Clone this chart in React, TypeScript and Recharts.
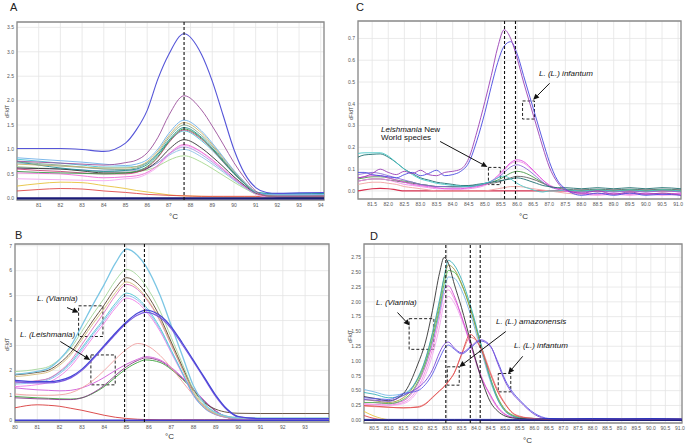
import React from 'react';
import { LineChart, Line, XAxis, YAxis, CartesianGrid, ReferenceLine, ReferenceArea } from 'recharts';

// ---------- Panel A ----------
const xA = [80, 81, 82, 83, 84, 85, 85.5, 86, 86.5, 87, 87.7, 88.5, 89, 89.5, 90, 90.5, 91, 91.5, 92, 93, 94.15];
const aBlue = [1.02, 1.02, 1.02, 1.0, 0.96, 1.13, 1.4, 1.8, 2.45, 2.95, 3.37, 2.95, 2.4, 1.7, 1.0, 0.5, 0.22, 0.12, 0.1, 0.11, 0.12];
const aPurple = [0.76, 0.74, 0.72, 0.7, 0.68, 0.73, 0.78, 0.93, 1.25, 1.7, 2.1, 1.81, 1.48, 1.11, 0.73, 0.41, 0.15, 0.05, 0.04, 0.04, 0.04];
const aLightBlue = [0.83, 0.8, 0.77, 0.74, 0.7, 0.67, 0.7, 0.79, 1.01, 1.33, 1.6, 1.38, 1.13, 0.85, 0.57, 0.33, 0.13, 0.08, 0.07, 0.07, 0.08];
const aTan = [0.7, 0.68, 0.66, 0.64, 0.62, 0.62, 0.65, 0.75, 0.97, 1.28, 1.55, 1.34, 1.1, 0.83, 0.56, 0.32, 0.13, 0.05, 0.04, 0.03, 0.03];
const aGrayGreen = [0.75, 0.71, 0.68, 0.64, 0.6, 0.59, 0.62, 0.72, 0.93, 1.24, 1.5, 1.29, 1.07, 0.8, 0.54, 0.31, 0.13, 0.06, 0.05, 0.05, 0.05];
const aTeal = [0.75, 0.68, 0.62, 0.58, 0.55, 0.57, 0.6, 0.69, 0.9, 1.19, 1.45, 1.25, 1.03, 0.78, 0.52, 0.3, 0.13, 0.1, 0.09, 0.09, 0.1];
const aGreen = [0.55, 0.53, 0.52, 0.51, 0.5, 0.52, 0.55, 0.65, 0.86, 1.16, 1.42, 1.23, 1.01, 0.76, 0.51, 0.3, 0.13, 0.05, 0.03, 0.02, 0.02];
const aMagRed = [0.6, 0.57, 0.55, 0.52, 0.5, 0.5, 0.53, 0.63, 0.84, 1.14, 1.4, 1.21, 1.0, 0.75, 0.51, 0.3, 0.12, 0.06, 0.05, 0.05, 0.05];
const aCyan = [0.8, 0.76, 0.72, 0.68, 0.64, 0.64, 0.65, 0.73, 0.91, 1.16, 1.38, 1.18, 0.98, 0.74, 0.5, 0.29, 0.12, 0.1, 0.1, 0.1, 0.1];
const aBlack = [0.62, 0.61, 0.6, 0.56, 0.52, 0.52, 0.54, 0.61, 0.77, 1.0, 1.2, 1.03, 0.85, 0.65, 0.44, 0.26, 0.11, 0.06, 0.03, 0.03, 0.03];
const aPink = [0.52, 0.51, 0.5, 0.46, 0.42, 0.44, 0.46, 0.53, 0.68, 0.91, 1.1, 0.95, 0.79, 0.6, 0.41, 0.24, 0.1, 0.04, 0.03, 0.03, 0.03];
const aLavender = [0.62, 0.61, 0.6, 0.58, 0.56, 0.56, 0.57, 0.61, 0.73, 0.91, 1.05, 0.9, 0.74, 0.57, 0.39, 0.23, 0.1, 0.07, 0.06, 0.06, 0.06];
const aLightBlue2 = [0.72, 0.69, 0.66, 0.63, 0.6, 0.59, 0.59, 0.62, 0.73, 0.88, 1.0, 0.85, 0.7, 0.54, 0.37, 0.22, 0.1, 0.08, 0.07, 0.07, 0.07];
const aLightGreen = [0.65, 0.62, 0.6, 0.57, 0.55, 0.56, 0.55, 0.58, 0.66, 0.78, 0.87, 0.74, 0.61, 0.47, 0.33, 0.2, 0.09, 0.05, 0.04, 0.04, 0.04];
const aLightPink = [0.4, 0.39, 0.38, 0.37, 0.36, 0.4, 0.42, 0.5, 0.65, 0.88, 1.08, 0.94, 0.77, 0.59, 0.4, 0.24, 0.08, 0.03, 0.02, 0.02, 0.02];
const aOrange = [0.25, 0.3, 0.33, 0.32, 0.26, 0.2, 0.16, 0.13, 0.1, 0.07, 0.05, 0.04, 0.035, 0.03, 0.03, 0.03, 0.03, 0.03, 0.03, 0.03, 0.03];
const aRed = [0.15, 0.18, 0.2, 0.19, 0.15, 0.12, 0.1, 0.08, 0.07, 0.06, 0.05, 0.04, 0.04, 0.04, 0.04, 0.04, 0.04, 0.03, 0.03, 0.03, 0.03];
const aNavy = [0, 0, 0, 0, 0, 0, 0, 0, 0, 0, 0, 0, 0, 0, 0, 0, 0, 0, 0, 0, 0];
const aXTicks = [81, 82, 83, 84, 85, 86, 87, 88, 89, 90, 91, 92, 93, 94];
const aYTicks = [0, 0.5, 1, 1.5, 2, 2.5, 3, 3.5];
const aMarks = [87.7];

// ---------- Panel B ----------
const xB = [80, 81, 81.5, 82, 82.5, 83, 83.5, 84, 84.5, 85, 85.5, 85.85, 86.5, 87, 87.5, 88, 88.5, 89, 89.5, 90, 91, 92, 93, 94.07];
const bCyan = [1.85, 1.96, 2.08, 2.44, 2.98, 3.8, 4.65, 5.45, 6.3, 6.87, 6.6, 6.2, 5.01, 3.8, 2.59, 1.37, 0.65, 0.31, 0.16, 0.1, 0.08, 0.08, 0.08, 0.08];
const bLightGreen = [1.95, 2.05, 2.15, 2.45, 2.89, 3.57, 4.26, 4.9, 5.6, 6.05, 5.8, 5.41, 4.38, 3.32, 2.27, 1.21, 0.58, 0.29, 0.16, 0.11, 0.08, 0.08, 0.08, 0.08];
const bBrown = [1.82, 1.92, 2.01, 2.29, 2.72, 3.35, 4.01, 4.63, 5.29, 5.72, 5.48, 5.12, 4.14, 3.14, 2.15, 1.22, 0.7, 0.44, 0.32, 0.28, 0.27, 0.27, 0.27, 0.27];
const bTan = [1.75, 1.85, 1.94, 2.21, 2.63, 3.24, 3.88, 4.48, 5.12, 5.55, 5.31, 4.95, 4.02, 3.05, 2.07, 1.11, 0.52, 0.25, 0.14, 0.09, 0.07, 0.07, 0.07, 0.07];
const bPink = [1.5, 1.59, 1.68, 1.96, 2.39, 3.04, 3.7, 4.33, 5.0, 5.45, 5.24, 4.9, 3.98, 3.01, 2.05, 1.09, 0.52, 0.24, 0.13, 0.08, 0.06, 0.06, 0.06, 0.06];
const bCyan2 = [1.5, 1.58, 1.67, 1.93, 2.32, 2.91, 3.51, 4.08, 4.69, 5.1, 4.89, 4.57, 3.71, 2.81, 1.91, 1.02, 0.49, 0.23, 0.12, 0.08, 0.06, 0.06, 0.06, 0.06];
const bLightBlue = [1.45, 1.53, 1.62, 1.87, 2.26, 2.83, 3.44, 4.0, 4.6, 5.0, 4.81, 4.49, 3.64, 2.76, 1.89, 1.0, 0.47, 0.23, 0.12, 0.08, 0.06, 0.06, 0.06, 0.06];
const bMagPink = [1.35, 1.43, 1.52, 1.77, 2.16, 2.73, 3.33, 3.9, 4.5, 4.9, 4.71, 4.4, 3.57, 2.71, 1.85, 0.98, 0.47, 0.22, 0.11, 0.07, 0.05, 0.05, 0.05, 0.05];
const bBlue = [1.6, 1.55, 1.55, 1.6, 1.75, 2.05, 2.5, 3.0, 3.5, 3.95, 4.3, 4.42, 4.2, 3.75, 3.1, 2.4, 1.7, 1.0, 0.45, 0.15, 0.07, 0.07, 0.07, 0.07];
const bViolet = [1.55, 1.5, 1.5, 1.55, 1.7, 2.0, 2.45, 2.95, 3.45, 3.9, 4.22, 4.33, 4.12, 3.68, 3.03, 2.35, 1.65, 0.95, 0.42, 0.14, 0.06, 0.06, 0.06, 0.06];
const bSalmon = [1.05, 1.0, 1.0, 1.02, 1.1, 1.3, 1.6, 2.0, 2.45, 2.85, 3.08, 3.02, 2.6, 2.1, 1.55, 1.0, 0.55, 0.25, 0.1, 0.05, 0.02, 0.02, 0.02, 0.02];
const bMagenta = [1.3, 1.22, 1.2, 1.18, 1.2, 1.3, 1.48, 1.72, 2.0, 2.25, 2.45, 2.55, 2.42, 2.12, 1.72, 1.25, 0.78, 0.38, 0.12, 0.03, 0, 0, 0, 0];
const bPurple = [0.9, 0.86, 0.85, 0.83, 0.83, 0.9, 1.1, 1.4, 1.8, 2.15, 2.4, 2.5, 2.38, 2.08, 1.68, 1.22, 0.76, 0.37, 0.12, 0.03, 0.02, 0.02, 0.02, 0.02];
const bGreen = [0.95, 0.9, 0.88, 0.86, 0.85, 0.9, 1.08, 1.35, 1.72, 2.07, 2.32, 2.42, 2.32, 2.04, 1.65, 1.2, 0.75, 0.36, 0.12, 0.03, 0.02, 0.02, 0.02, 0.02];
const bRed = [0.5, 0.62, 0.6, 0.56, 0.48, 0.4, 0.3, 0.2, 0.12, 0.07, 0.04, 0.03, 0.02, 0.02, 0.02, 0.02, 0.02, 0.02, 0.02, 0.02, 0.02, 0.02, 0.02, 0.02];
const bNavy = [0, 0, 0, 0, 0, 0, 0, 0, 0, 0, 0, 0, 0, 0, 0, 0, 0, 0, 0, 0, 0, 0, 0, 0];
const bXTicks = [80, 81, 82, 83, 84, 85, 86, 87, 88, 89, 90, 91, 92, 93];
const bYTicks = [0, 1, 2, 3, 4, 5, 6, 7];
const bMarks = [84.91, 85.8];

// ---------- Panel C ----------
const xC = [81.06, 81.25, 81.5, 81.75, 82, 82.25, 82.5, 82.75, 83, 83.25, 83.5, 83.75, 84, 84.25, 84.5, 84.75, 85, 85.2, 85.4, 85.6, 85.8, 86, 86.2, 86.4, 86.6, 86.8, 87, 87.25, 87.5, 88, 88.5, 89, 89.5, 90, 90.5, 91.09];
const cPurple = [0.06, 0.065, 0.08, 0.1, 0.085, 0.075, 0.09, 0.08, 0.095, 0.075, 0.07, 0.085, 0.09, 0.1, 0.15, 0.27, 0.41, 0.53, 0.66, 0.74, 0.7, 0.61, 0.5, 0.4, 0.3, 0.2, 0.11, 0.04, 0.005, -0.01, 0, -0.015, -0.005, -0.015, -0.01, -0.02];
const cBlue = [0.085, 0.085, 0.075, 0.07, 0.065, 0.06, 0.075, 0.085, 0.07, 0.08, 0.095, 0.07, 0.075, 0.09, 0.13, 0.23, 0.36, 0.48, 0.59, 0.665, 0.685, 0.63, 0.53, 0.43, 0.33, 0.23, 0.135, 0.05, 0.01, -0.02, -0.01, -0.02, -0.01, -0.02, -0.015, -0.02];
const cCyan = [0.172, 0.175, 0.175, 0.175, 0.16, 0.13, 0.1, 0.075, 0.055, 0.045, 0.035, 0.03, 0.025, 0.022, 0.02, 0.025, 0.035, 0.045, 0.06, 0.068, 0.055, 0.035, 0.02, 0.01, 0, -0.005, 0, 0, 0.005, 0, 0.005, 0, 0.005, 0, 0.005, 0];
const cDarkTeal = [0.155, 0.165, 0.168, 0.17, 0.155, 0.13, 0.1, 0.08, 0.06, 0.05, 0.04, 0.035, 0.03, 0.025, 0.025, 0.03, 0.035, 0.04, 0.045, 0.05, 0.055, 0.06, 0.055, 0.045, 0.035, 0.025, 0.02, 0.015, 0.015, 0.01, 0.015, 0.01, 0.015, 0.01, 0.015, 0.01];
const cMagenta = [0.06, 0.065, 0.07, 0.07, 0.06, 0.05, 0.04, 0.03, 0.025, 0.02, 0.015, 0.01, 0.01, 0.01, 0.015, 0.02, 0.03, 0.045, 0.07, 0.1, 0.13, 0.143, 0.135, 0.11, 0.08, 0.05, 0.025, 0.01, 0, -0.01, -0.015, -0.01, -0.015, -0.01, -0.015, -0.01];
const cPink = [0.045, 0.05, 0.055, 0.055, 0.05, 0.04, 0.03, 0.025, 0.02, 0.015, 0.01, 0.01, 0.008, 0.008, 0.01, 0.015, 0.025, 0.04, 0.065, 0.095, 0.125, 0.135, 0.128, 0.105, 0.078, 0.05, 0.028, 0.012, 0, -0.015, -0.02, -0.015, -0.02, -0.015, -0.02, -0.015];
const cViolet = [0.075, 0.08, 0.085, 0.08, 0.07, 0.06, 0.05, 0.04, 0.03, 0.025, 0.02, 0.02, 0.018, 0.018, 0.02, 0.025, 0.035, 0.045, 0.06, 0.085, 0.11, 0.12, 0.11, 0.09, 0.065, 0.04, 0.02, 0.008, 0, -0.005, 0, -0.005, 0, -0.005, 0, -0.005];
const cGreen = [0.055, 0.06, 0.065, 0.065, 0.06, 0.05, 0.045, 0.04, 0.03, 0.025, 0.02, 0.02, 0.02, 0.02, 0.02, 0.025, 0.03, 0.04, 0.05, 0.065, 0.082, 0.09, 0.085, 0.072, 0.055, 0.038, 0.022, 0.012, 0.005, 0, 0.005, 0, 0.005, 0, 0.005, 0];
const cGray = [0.045, 0.05, 0.055, 0.055, 0.05, 0.045, 0.04, 0.035, 0.03, 0.025, 0.02, 0.02, 0.02, 0.02, 0.022, 0.025, 0.03, 0.035, 0.04, 0.05, 0.06, 0.067, 0.065, 0.058, 0.048, 0.035, 0.022, 0.012, 0.008, 0.005, 0.008, 0.005, 0.008, 0.005, 0.008, 0.005];
const cSalmon = [0.03, 0.035, 0.04, 0.04, 0.035, 0.03, 0.02, 0.015, 0.01, 0.005, 0, 0, 0, 0, 0, 0, 0, 0.005, 0.01, 0.015, 0.02, 0.02, 0.018, 0.012, 0.008, 0.004, 0, -0.005, -0.01, -0.015, -0.01, -0.015, -0.01, -0.015, -0.01, -0.015];
const cRed = [0, 0.005, 0.01, 0.012, 0.01, 0.005, 0, 0, 0, 0, 0, 0, 0, 0, 0, 0, 0, 0, 0, 0, 0, 0, 0, 0, 0, 0, 0, 0, 0, 0, 0, 0, 0, 0, 0, 0];
const cXTicks = [81.5, 82, 82.5, 83, 83.5, 84, 84.5, 85, 85.5, 86, 86.5, 87, 87.5, 88, 88.5, 89, 89.5, 90, 90.5, 91];
const cYTicks = [0, 0.1, 0.2, 0.3, 0.4, 0.5, 0.6, 0.7];
const cMarks = [85.61, 85.95];

// ---------- Panel D ----------
const xD = [80.15, 80.5, 81, 81.5, 82, 82.25, 82.5, 82.75, 82.9, 83.05, 83.25, 83.5, 83.8, 84.15, 84.5, 84.75, 85, 85.25, 85.5, 86, 86.5, 87, 88, 89, 90, 91.07];
const dBlack = [0.4, 0.37, 0.33, 0.45, 0.95, 1.3, 1.85, 2.5, 2.75, 2.65, 2.3, 1.9, 1.35, 0.75, 0.3, 0.15, 0.07, 0.04, 0.03, 0.02, 0.02, 0.02, 0.02, 0.02, 0.02, 0.02];
const dTeal = [0.47, 0.44, 0.38, 0.42, 0.72, 1.02, 1.48, 2.05, 2.42, 2.7, 2.62, 2.38, 1.95, 1.32, 0.68, 0.34, 0.15, 0.07, 0.04, 0.03, 0.03, 0.03, 0.03, 0.03, 0.03, 0.03];
const dOlive = [0.35, 0.33, 0.3, 0.38, 0.7, 1.0, 1.45, 2.0, 2.4, 2.62, 2.55, 2.3, 1.88, 1.28, 0.68, 0.36, 0.17, 0.08, 0.04, 0.03, 0.03, 0.03, 0.03, 0.03, 0.03, 0.03];
const dGreen = [0.3, 0.3, 0.28, 0.35, 0.65, 0.95, 1.38, 1.92, 2.3, 2.53, 2.5, 2.3, 1.9, 1.3, 0.7, 0.38, 0.18, 0.09, 0.05, 0.03, 0.03, 0.03, 0.03, 0.03, 0.03, 0.03];
const dLightBlue = [0.52, 0.48, 0.42, 0.45, 0.7, 0.95, 1.35, 1.85, 2.2, 2.42, 2.4, 2.2, 1.8, 1.22, 0.64, 0.34, 0.16, 0.08, 0.04, 0.03, 0.03, 0.03, 0.03, 0.03, 0.03, 0.03];
const dMagenta = [0.3, 0.3, 0.28, 0.33, 0.62, 0.9, 1.3, 1.85, 2.2, 2.27, 2.1, 1.75, 1.3, 0.75, 0.42, 0.22, 0.1, 0.05, 0.03, 0.02, 0.02, 0.02, 0.02, 0.02, 0.02, 0.02];
const dPink = [0.28, 0.27, 0.26, 0.3, 0.55, 0.82, 1.2, 1.75, 2.12, 2.2, 2.05, 1.75, 1.3, 0.78, 0.4, 0.2, 0.09, 0.05, 0.03, 0.02, 0.02, 0.02, 0.02, 0.02, 0.02, 0.02];
const dLightPink = [0.27, 0.26, 0.25, 0.28, 0.5, 0.75, 1.1, 1.6, 1.98, 2.09, 1.98, 1.7, 1.28, 0.78, 0.4, 0.2, 0.1, 0.05, 0.03, 0.02, 0.02, 0.02, 0.02, 0.02, 0.02, 0.02];
const dPurpleInf = [0.35, 0.34, 0.32, 0.42, 0.55, 0.66, 0.85, 1.15, 1.28, 1.32, 1.22, 1.14, 1.24, 1.36, 1.25, 0.95, 0.65, 0.45, 0.32, 0.1, 0.02, 0.01, 0.01, 0.01, 0.01, 0.01];
const dBlueInf = [0.38, 0.37, 0.35, 0.45, 0.5, 0.6, 0.78, 1.05, 1.2, 1.27, 1.2, 1.12, 1.22, 1.34, 1.24, 0.98, 0.68, 0.48, 0.34, 0.12, 0.03, 0.02, 0.02, 0.02, 0.02, 0.02];
const dRedAmz = [0.25, 0.24, 0.22, 0.21, 0.22, 0.27, 0.38, 0.5, 0.57, 0.66, 0.8, 1.12, 1.45, 1.22, 0.77, 0.47, 0.27, 0.12, 0.06, 0.03, 0.02, 0.02, 0.02, 0.02, 0.02, 0.02];
const dSalmonAmz = [0.24, 0.23, 0.22, 0.21, 0.23, 0.28, 0.39, 0.5, 0.56, 0.65, 0.8, 1.1, 1.4, 1.25, 0.8, 0.5, 0.28, 0.13, 0.07, 0.03, 0.02, 0.02, 0.02, 0.02, 0.02, 0.02];
const dOrange = [0.15, 0.07, 0.01, 0, 0, 0, 0, 0, 0, 0, 0, 0, 0, 0, 0, 0, 0, 0, 0, 0, 0, 0, 0, 0, 0, 0];
const dRedLow = [0.08, 0.03, 0, 0, 0, 0, 0, 0, 0, 0, 0, 0, 0, 0, 0, 0, 0, 0, 0, 0, 0, 0, 0, 0, 0, 0];
const dBlueFlat = [0.015, 0.015, 0.015, 0.015, 0.015, 0.015, 0.015, 0.015, 0.015, 0.015, 0.015, 0.015, 0.015, 0.015, 0.015, 0.015, 0.015, 0.015, 0.015, 0.02, 0.03, 0.025, 0.03, 0.025, 0.03, 0.02];
const dNavy = [0, 0, 0, 0, 0, 0, 0, 0, 0, 0, 0, 0, 0, 0, 0, 0, 0, 0, 0, 0, 0, 0, 0, 0, 0, 0];
const dXTicks = [80.5, 81, 81.5, 82, 82.5, 83, 83.5, 84, 84.5, 85, 85.5, 86, 86.5, 87, 87.5, 88, 88.5, 89, 89.5, 90, 90.5, 91];
const dYTicks = [0, 0.25, 0.5, 0.75, 1, 1.25, 1.5, 1.75, 2, 2.25, 2.5, 2.75];
const dMarks = [82.96, 83.8, 84.14];

type S = { key: string; color: string; values: number[]; w?: number };
type Box = { x1: number; x2: number; y1: number; y2: number };
type Arrow = { from: [number, number]; to: [number, number] };

const arrowShape = (p: any) => {
  const { x1, y1, x2, y2 } = p;
  const ang = Math.atan2(y2 - y1, x2 - x1);
  const L = 6;
  const W = 2.8;
  const bx = x2 - L * Math.cos(ang);
  const by = y2 - L * Math.sin(ang);
  const pts = `${x2},${y2} ${bx - W * Math.sin(ang)},${by + W * Math.cos(ang)} ${bx + W * Math.sin(ang)},${by - W * Math.cos(ang)}`;
  return (
    <g>
      <line x1={x1} y1={y1} x2={bx} y2={by} stroke="#111" strokeWidth={1} />
      <polygon points={pts} fill="#111" />
    </g>
  );
};

const tickStyle = { fontSize: 5, fill: '#555', fontFamily: 'Liberation Sans, Arial, sans-serif' };

function Panel(props: {
  left: number; top: number; width: number; height: number;
  margin: { top: number; right: number; bottom: number; left: number };
  yWidth: number; xs: number[]; series: S[];
  xDomain: [number, number]; yDomain: [number, number];
  xTicks: number[]; yTicks: number[];
  xFmt: (v: number) => string; yFmt: (v: number) => string;
  marks: number[]; boxes: Box[]; arrows: Arrow[];
}) {
  const { xs, series } = props;
  const rows = xs.map((t, i) => {
    const r: any = { t };
    series.forEach((s) => { r[s.key] = s.values[i]; });
    return r;
  });
  return (
    <div style={{ position: 'absolute', left: props.left, top: props.top }}>
      <LineChart width={props.width} height={props.height} data={rows} margin={props.margin}>
        <CartesianGrid stroke="#e4e4e4" strokeWidth={0.8} />
        <XAxis dataKey="t" type="number" domain={props.xDomain} ticks={props.xTicks} tickFormatter={props.xFmt}
          allowDataOverflow interval={0} height={12} tickLine={false} tickSize={0} axisLine={false} tick={tickStyle} tickMargin={3} />
        <YAxis type="number" domain={props.yDomain} ticks={props.yTicks} tickFormatter={props.yFmt}
          allowDataOverflow interval={0} width={props.yWidth} tickLine={false} tickSize={0} axisLine={false} tick={tickStyle} tickMargin={3} />
        {series.map((s) => (
          <Line key={s.key} dataKey={s.key} stroke={s.color} strokeWidth={s.w ?? 0.9} dot={false}
            type="monotone" isAnimationActive={false} />
        ))}
        {props.marks.map((m) => (
          <ReferenceLine key={'m' + m} x={m} stroke="#111" strokeDasharray="3 2" strokeWidth={1.1} />
        ))}
        {props.boxes.map((b, i) => (
          <ReferenceArea key={'b' + i} x1={b.x1} x2={b.x2} y1={b.y1} y2={b.y2} fill="none" fillOpacity={0}
            stroke="#222" strokeDasharray="3 2" strokeWidth={1} />
        ))}
        {props.arrows.map((a, i) => (
          <ReferenceLine key={'a' + i} segment={[{ x: a.from[0], y: a.from[1] }, { x: a.to[0], y: a.to[1] }]}
            stroke="#111" shape={arrowShape} />
        ))}
        <ReferenceArea x1={props.xDomain[0]} x2={props.xDomain[1]} y1={props.yDomain[0]} y2={props.yDomain[1]}
          fill="none" fillOpacity={0} stroke="#8a8a8a" strokeWidth={1.3} ifOverflow="visible" />
      </LineChart>
    </div>
  );
}

const seriesA: S[] = [
  { key: 'orange', color: '#e6c23c', values: aOrange },
  { key: 'red', color: '#e04848', values: aRed },
  { key: 'lightpink', color: '#f4a6f0', values: aLightPink },
  { key: 'lightgreen', color: '#a6d88e', values: aLightGreen },
  { key: 'lightblue2', color: '#8fc3e6', values: aLightBlue2 },
  { key: 'lavender', color: '#a99be0', values: aLavender },
  { key: 'pink', color: '#f06ad8', values: aPink },
  { key: 'black', color: '#333333', values: aBlack },
  { key: 'cyan', color: '#48c4d6', values: aCyan },
  { key: 'magred', color: '#c8407a', values: aMagRed },
  { key: 'green', color: '#3a9a4a', values: aGreen },
  { key: 'teal', color: '#1f8f94', values: aTeal },
  { key: 'graygreen', color: '#80a88c', values: aGrayGreen },
  { key: 'tan', color: '#c8b06a', values: aTan },
  { key: 'lightblue', color: '#6fb0e8', values: aLightBlue },
  { key: 'purple', color: '#9b4f9b', values: aPurple },
  { key: 'blue', color: '#5555d8', values: aBlue, w: 1.1 },
  { key: 'navy', color: '#1c1c78', values: aNavy, w: 2.2 },
];

const seriesB: S[] = [
  { key: 'red', color: '#d83a3a', values: bRed },
  { key: 'green', color: '#3aa03a', values: bGreen },
  { key: 'purple', color: '#8a3a8a', values: bPurple },
  { key: 'magenta', color: '#d058d8', values: bMagenta },
  { key: 'salmon', color: '#f0a0a0', values: bSalmon },
  { key: 'magpink', color: '#f07ee6', values: bMagPink },
  { key: 'lightblue', color: '#8ab4f0', values: bLightBlue },
  { key: 'cyan2', color: '#50c8d4', values: bCyan2 },
  { key: 'pink', color: '#e070c0', values: bPink },
  { key: 'tan', color: '#d6bc7a', values: bTan },
  { key: 'brown', color: '#5a4430', values: bBrown },
  { key: 'lightgreen', color: '#a4d69a', values: bLightGreen },
  { key: 'cyan', color: '#7cc6e4', values: bCyan, w: 1.3 },
  { key: 'violet', color: '#7c5ae0', values: bViolet, w: 1.2 },
  { key: 'blue', color: '#4646d6', values: bBlue, w: 1.2 },
  { key: 'navy', color: '#3a3ad0', values: bNavy, w: 1.6 },
];

const seriesC: S[] = [
  { key: 'red', color: '#d83050', values: cRed, w: 1.2 },
  { key: 'salmon', color: '#f0a0a0', values: cSalmon },
  { key: 'gray', color: '#606060', values: cGray },
  { key: 'green', color: '#4a9a4a', values: cGreen },
  { key: 'violet', color: '#8a6ad8', values: cViolet },
  { key: 'pink', color: '#f08ce8', values: cPink },
  { key: 'magenta', color: '#e050e0', values: cMagenta },
  { key: 'darkteal', color: '#1f6f6f', values: cDarkTeal },
  { key: 'cyan', color: '#48c8c8', values: cCyan },
  { key: 'blue', color: '#4848e0', values: cBlue },
  { key: 'purple', color: '#9a3fb5', values: cPurple },
];

const seriesD: S[] = [
  { key: 'orange', color: '#e6c23c', values: dOrange },
  { key: 'redlow', color: '#e04848', values: dRedLow },
  { key: 'lightpink', color: '#f2a8f0', values: dLightPink },
  { key: 'pink', color: '#f08ae0', values: dPink },
  { key: 'magenta', color: '#d050d0', values: dMagenta },
  { key: 'lightblue', color: '#78b8e8', values: dLightBlue },
  { key: 'green', color: '#58c058', values: dGreen },
  { key: 'olive', color: '#a09a40', values: dOlive },
  { key: 'teal', color: '#38b0b8', values: dTeal },
  { key: 'black', color: '#333333', values: dBlack },
  { key: 'salmonamz', color: '#f08080', values: dSalmonAmz },
  { key: 'redamz', color: '#e05050', values: dRedAmz },
  { key: 'blueinf', color: '#5a5ae8', values: dBlueInf },
  { key: 'purpleinf', color: '#7a4ad8', values: dPurpleInf },
  { key: 'blueflat', color: '#2030c0', values: dBlueFlat },
  { key: 'navy', color: '#1c1c78', values: dNavy, w: 1.6 },
];

const f1 = (v: number) => v.toFixed(1);
const f0 = (v: number) => String(v);
const f2 = (v: number) => v.toFixed(2);

const textBase: React.CSSProperties = {
  position: 'absolute', fontFamily: 'Liberation Sans, Arial, sans-serif', color: '#111', whiteSpace: 'nowrap', lineHeight: 1,
};
const italicNote: React.CSSProperties = { ...textBase, fontSize: 8, fontStyle: 'italic' };
const letter: React.CSSProperties = { ...textBase, fontSize: 11, color: '#222' };
const unit: React.CSSProperties = { ...textBase, fontSize: 8, color: '#333' };
const yLab: React.CSSProperties = { ...textBase, fontSize: 5, color: '#444', transform: 'rotate(-90deg)', transformOrigin: 'left top' };

export default function App() {
  return (
    <div style={{ position: 'absolute', left: 0, top: 0, width: 686, height: 448, background: '#fff', overflow: 'hidden' }}>
      <Panel left={0} top={0} width={340} height={225} margin={{ top: 22, right: 16, bottom: 13, left: 0 }} yWidth={17}
        xs={xA} series={seriesA} xDomain={[80, 94.15]} yDomain={[-0.035, 3.61]} xTicks={aXTicks} yTicks={aYTicks}
        xFmt={f0} yFmt={f1} marks={aMarks} boxes={[]} arrows={[]} />
      <Panel left={0} top={225} width={340} height={223} margin={{ top: 19, right: 11, bottom: 14, left: 0 }} yWidth={15}
        xs={xB} series={seriesB} xDomain={[80, 94.07]} yDomain={[-0.07, 7.07]} xTicks={bXTicks} yTicks={bYTicks}
        xFmt={f0} yFmt={f0} marks={bMarks}
        boxes={[{ x1: 82.85, x2: 83.94, y1: 3.36, y2: 4.59 }, { x1: 83.4, x2: 84.49, y1: 1.42, y2: 2.62 }]}
        arrows={[{ from: [82.33, 4.52], to: [82.85, 4.32] }, { from: [82.03, 3.16], to: [83.37, 2.42] }]} />
      <Panel left={340} top={0} width={346} height={225} margin={{ top: 21, right: 5, bottom: 14, left: 0 }} yWidth={18}
        xs={xC} series={seriesC} xDomain={[81.06, 91.09]} yDomain={[-0.037, 0.78]} xTicks={cXTicks} yTicks={cYTicks}
        xFmt={f1} yFmt={f1} marks={cMarks}
        boxes={[{ x1: 86.17, x2: 86.54, y1: 0.33, y2: 0.413 }, { x1: 85.11, x2: 85.48, y1: 0.029, y2: 0.108 }]}
        arrows={[{ from: [87.01, 0.494], to: [86.5, 0.418] }, { from: [83.61, 0.227], to: [85.08, 0.11] }]} />
      <Panel left={340} top={225} width={346} height={223} margin={{ top: 19, right: 4, bottom: 13, left: 0 }} yWidth={24}
        xs={xD} series={seriesD} xDomain={[80.15, 91.07]} yDomain={[-0.046, 2.977]} xTicks={dXTicks} yTicks={dYTicks}
        xFmt={f1} yFmt={f2} marks={dMarks}
        boxes={[{ x1: 81.7, x2: 82.55, y1: 1.198, y2: 1.716 }, { x1: 83.01, x2: 83.42, y1: 0.593, y2: 0.903 }, { x1: 84.76, x2: 85.19, y1: 0.48, y2: 0.79 }]}
        arrows={[{ from: [81.3, 1.82], to: [81.72, 1.6] }, { from: [85.02, 1.5], to: [83.42, 0.9] }, { from: [85.6, 1.08], to: [85.1, 0.79] }]} />

      <div style={{ ...letter, left: 10, top: 2 }}>A</div>
      <div style={{ ...letter, left: 15, top: 230 }}>B</div>
      <div style={{ ...letter, left: 356, top: 2 }}>C</div>
      <div style={{ ...letter, left: 370, top: 231 }}>D</div>

      <div style={{ ...unit, left: 169, top: 213 }}>°C</div>
      <div style={{ ...unit, left: 165, top: 433 }}>°C</div>
      <div style={{ ...unit, left: 519, top: 213 }}>°C</div>
      <div style={{ ...unit, left: 523, top: 437 }}>°C</div>

      <div style={{ ...yLab, left: 5, top: 118 }}>dF/dT</div>
      <div style={{ ...yLab, left: 5, top: 351 }}>dF/dT</div>
      <div style={{ ...yLab, left: 349, top: 120 }}>dF/dT</div>
      <div style={{ ...yLab, left: 348, top: 343 }}>dF/dT</div>

      <div style={{ ...italicNote, left: 37, top: 295 }}>L. (Viannia)</div>
      <div style={{ ...italicNote, left: 20, top: 331 }}>L. (Leishmania)</div>
      <div style={{ ...italicNote, left: 539, top: 70 }}>L. (L.) infantum</div>
      <div style={{ ...textBase, fontSize: 8, left: 381, top: 126 }}><i>Leishmania</i> New</div>
      <div style={{ ...textBase, fontSize: 8, left: 381, top: 134 }}>World species</div>
      <div style={{ ...italicNote, left: 376, top: 299 }}>L. (Viannia)</div>
      <div style={{ ...italicNote, left: 496, top: 318 }}>L. (L.) amazonensis</div>
      <div style={{ ...italicNote, left: 514, top: 342 }}>L. (L.) infantum</div>
    </div>
  );
}
